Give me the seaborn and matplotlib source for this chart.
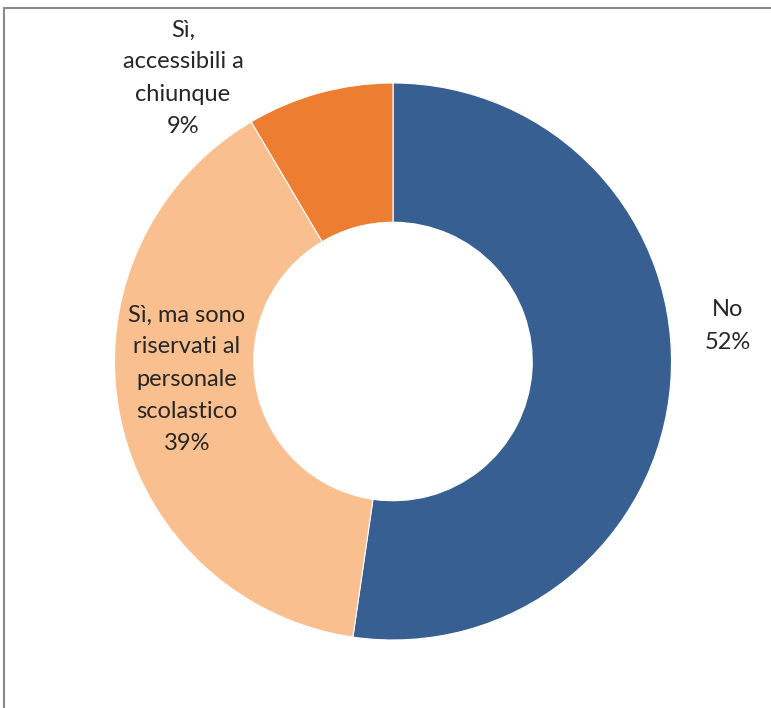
import matplotlib
matplotlib.use("Agg")
import matplotlib.pyplot as plt
from matplotlib.lines import Line2D
import seaborn as sns

labels = ["No", "Sì, ma sono\nriservati al\npersonale\nscolastico", "Sì,\naccessibili a\nchiunque"]
values = [52.3, 39.2, 8.5]
pct_labels = ["52%", "39%", "9%"]
colors = ["#375F92", "#F9BF8F", "#ED7D31"]

sns.set_theme(style="white")
plt.rcParams['font.family'] = ['Lato', 'DejaVu Sans']

W, H = 771, 708
fig = plt.figure(figsize=(W / 100, H / 100), dpi=100)
cx, cy, R = 393, 361.5, 278.5
ax = fig.add_axes([(cx - R) / W, (H - cy - R) / H, 2 * R / W, 2 * R / H])
ax.axis("off")

ax.pie(values, colors=colors, startangle=90, counterclock=False, radius=1,
       wedgeprops=dict(width=0.5, edgecolor="white", linewidth=0.8))
ax.set_xlim(-1, 1)
ax.set_ylim(-1, 1)

def d(px, py):
    return (px - cx) / R, (cy - py) / R

pos = [d(728, 326), d(187, 379), d(183, 78)]
for lab, p, (x, y) in zip(labels, pct_labels, pos):
    ax.text(x, y, f"{lab}\n{p}", ha="center", va="center", fontsize=17,
            color="#262626", linespacing=1.65, clip_on=False)

fig.add_artist(Line2D([4 / W, 1], [1 - 8 / H, 1 - 8 / H], color="#8a8a8a", lw=1.5))
fig.add_artist(Line2D([4 / W, 4 / W], [0, 1 - 8 / H], color="#8a8a8a", lw=1.5))

fig.savefig("out.png", dpi=100, facecolor="white")
